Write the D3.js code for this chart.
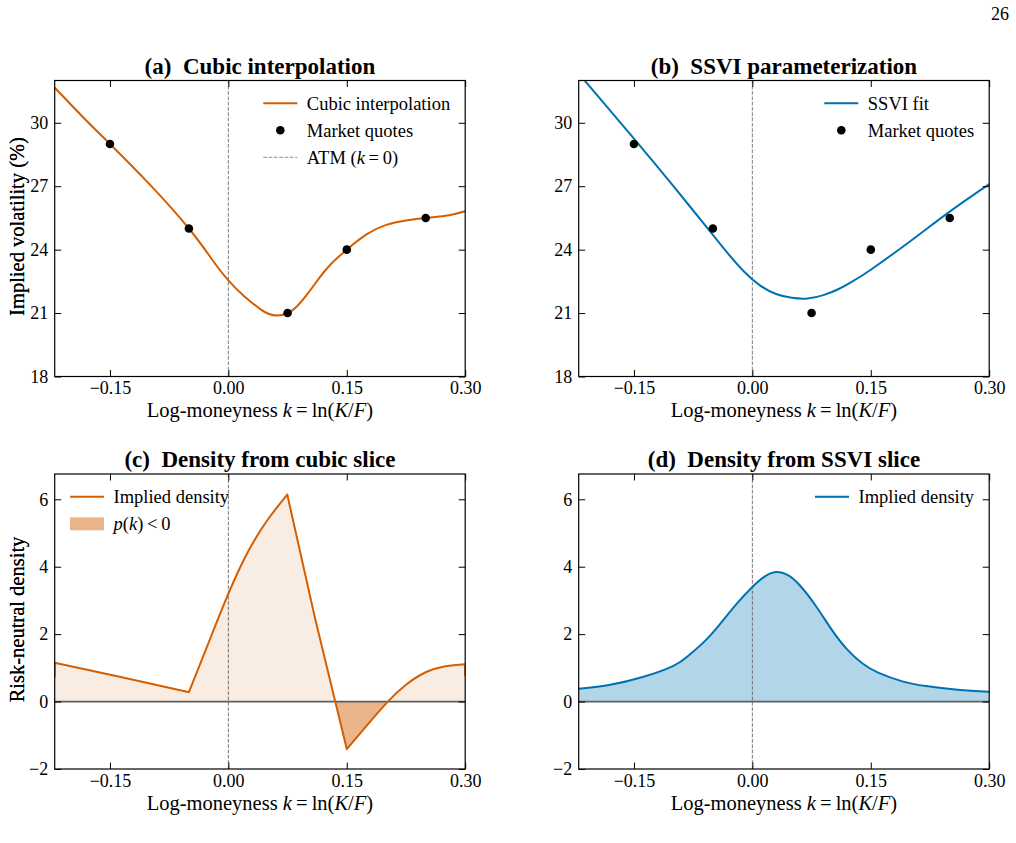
<!DOCTYPE html>
<html>
<head>
<meta charset="utf-8">
<script src="https://cdn.jsdelivr.net/npm/d3@7/dist/d3.min.js"></script>
<style>
  body { margin: 0; background: #fff; }
  svg { display: block; }
  text { font-family: "Liberation Serif", "Times New Roman", serif; fill: #000; }
</style>
</head>
<body>
<div id="chart"></div>
<script>
// Axis ranges and ticks
const kDomain = [-0.22, 0.30];
const kTicks = [-0.15, 0.00, 0.15, 0.30];
const volDomain = [18, 32];
const volTicks = [18, 21, 24, 27, 30];
const densDomain = [-2, 6.75];
const densTicks = [-2, 0, 2, 4, 6];

// Market quotes (log-moneyness, implied vol %)
const quoteK = [-0.15, -0.05, 0.075, 0.15, 0.25];
const quoteVol = [29.0, 25.0, 21.0, 24.0, 25.5];

// (a) cubic interpolated smile
const cubicK = [-0.22, -0.185, -0.15, -0.10, -0.05, -0.02, 0.0, 0.02, 0.04, 0.05, 0.062, 0.075, 0.085, 0.10, 0.115, 0.13, 0.15, 0.175, 0.20, 0.225, 0.25, 0.275, 0.30];
const cubicVol = [31.66, 30.3, 29.0, 27.1, 25.0, 23.5, 22.55, 21.8, 21.2, 20.98, 20.88, 21.0, 21.25, 21.9, 22.65, 23.32, 24.0, 24.72, 25.17, 25.38, 25.5, 25.6, 25.82];

// (b) SSVI fitted smile
const ssviK = [-0.22, -0.15, -0.10, -0.05, -0.03, -0.01, 0.01, 0.03, 0.05, 0.07, 0.09, 0.11, 0.13, 0.15, 0.20, 0.25, 0.30];
const ssviVol = [32.33, 29.25, 27.0, 24.7, 23.78, 22.94, 22.3, 21.9, 21.72, 21.69, 21.85, 22.15, 22.57, 23.05, 24.4, 25.8, 27.1];

// (c) density implied by the cubic slice (kinks at the inner knots)
const cubicDensK = [-0.22, -0.22, -0.135, -0.05, -0.025, 0.0, 0.025, 0.05, 0.0746, 0.11, 0.15, 0.175, 0.202, 0.225, 0.25, 0.275, 0.30, 0.30];
const cubicDensP = [0.74, 1.15, 0.72, 0.28, 1.75, 3.2, 4.45, 5.4, 6.14, 2.45, -1.41, -0.72, 0.0, 0.5, 0.87, 1.05, 1.11, 0.77];
const cubicDensKinks = [-0.05, 0.0746, 0.15];

// (d) density implied by the SSVI slice
const ssviDensK = [-0.22, -0.18, -0.14, -0.10, -0.08, -0.06, -0.04, -0.02, 0.0, 0.015, 0.03, 0.045, 0.06, 0.08, 0.10, 0.12, 0.14, 0.16, 0.19, 0.22, 0.26, 0.30];
const ssviDensP = [0.38, 0.5, 0.72, 1.06, 1.38, 1.8, 2.33, 2.9, 3.4, 3.7, 3.84, 3.75, 3.45, 2.85, 2.15, 1.55, 1.12, 0.85, 0.6, 0.46, 0.35, 0.29];

const orange = "#d55e00";
const blue = "#0072b2";

const W = 1016, H = 843;
const pw = 410.5;

const svg = d3.select("#chart").append("svg")
    .attr("width", W)
    .attr("height", H);

svg.append("rect").attr("width", W).attr("height", H).attr("fill", "#fff");

// page number
svg.append("text")
    .attr("x", 1009).attr("y", 19.5)
    .attr("text-anchor", "end")
    .style("font-size", "18px")
    .text("26");

const zip = (a, b) => a.map((v, i) => [v, b[i]]);

// split a series into smooth pieces at kinks and at vertical jumps
function splitPieces(pts, kinks) {
    const pieces = [];
    let cur = [pts[0]];
    for (let i = 1; i < pts.length; i++) {
        const p = pts[i];
        const vertical = p[0] === cur[cur.length - 1][0];
        if (vertical) {
            if (cur.length > 1) pieces.push(cur);
            pieces.push([cur[cur.length - 1], p]);
            cur = [p];
            continue;
        }
        cur.push(p);
        if (kinks.includes(p[0]) && i < pts.length - 1) {
            pieces.push(cur);
            cur = [p];
        }
    }
    if (cur.length > 1) pieces.push(cur);
    return pieces;
}

function drawPanel(opt) {
    const g = svg.append("g").attr("transform", `translate(${opt.left},${opt.top})`);
    const h = opt.height;
    const x = d3.scaleLinear().domain(kDomain).range([0, pw]);
    const y = d3.scaleLinear().domain(opt.yDomain).range([h, 0]);

    const clipId = "clip-" + opt.id;
    g.append("clipPath").attr("id", clipId)
        .append("rect").attr("width", pw).attr("height", h);

    const body = g.append("g").attr("clip-path", `url(#${clipId})`);

    const pieces = splitPieces(zip(opt.xs, opt.ys), opt.kinks || []);
    const line = d3.line().x(d => x(d[0])).y(d => y(d[1])).curve(d3.curveNatural);
    const linePath = pieces.map(p => line(p)).join("");

    // fills: above zero light, below zero darker
    if (opt.density) {
        const area = d3.area().x(d => x(d[0])).y0(y(0)).y1(d => y(d[1])).curve(d3.curveNatural);
        const areaPath = pieces.map(p => area(p)).join("");
        g.append("clipPath").attr("id", clipId + "-pos")
            .append("rect").attr("width", pw).attr("height", y(0));
        g.append("clipPath").attr("id", clipId + "-neg")
            .append("rect").attr("y", y(0)).attr("width", pw).attr("height", h - y(0));
        body.append("g").attr("clip-path", `url(#${clipId}-pos)`)
            .append("path").attr("d", areaPath).attr("fill", opt.lightFill);
        if (opt.negFill) {
            body.append("g").attr("clip-path", `url(#${clipId}-neg)`)
                .append("path").attr("d", areaPath).attr("fill", opt.negFill);
        }
    }

    // ATM line
    body.append("line")
        .attr("x1", x(0)).attr("x2", x(0))
        .attr("y1", 0).attr("y2", h)
        .attr("stroke", opt.density ? "#666" : "#8a8a8a")
        .attr("stroke-width", opt.density ? 0.9 : 1.1)
        .attr("stroke-dasharray", "3.7,1.6");

    if (opt.density) {
        body.append("line")
            .attr("x1", 0).attr("x2", pw)
            .attr("y1", y(0)).attr("y2", y(0))
            .attr("stroke", "#5e5e5e")
            .attr("stroke-width", 1.8);
    }

    // main curve
    body.append("path")
        .attr("d", linePath)
        .attr("fill", "none")
        .attr("stroke", opt.color)
        .attr("stroke-width", 2)
        .attr("stroke-linejoin", "round")
        .attr("stroke-linecap", "round");

    // quotes
    if (opt.quotes) {
        body.selectAll("circle.q")
            .data(zip(quoteK, quoteVol))
            .enter().append("circle")
            .attr("class", "q")
            .attr("cx", d => x(d[0]))
            .attr("cy", d => y(d[1]))
            .attr("r", 4.3)
            .attr("fill", "#000");
    }

    // axes with inward ticks on all four sides
    const tick = 6.5;
    const styleAxis = sel => {
        sel.select(".domain").remove();
        sel.attr("font-family", null).attr("font-size", null);
        sel.selectAll("line").attr("stroke", "#000").attr("stroke-width", 1);
        sel.selectAll("text").style("font-family", '"Liberation Serif", serif').style("font-size", "18px").attr("fill", "#000");
    };
    g.append("g").attr("transform", `translate(0,${h})`)
        .call(d3.axisBottom(x).tickValues(kTicks).tickSizeInner(-tick).tickSizeOuter(0).tickPadding(5).tickFormat(d3.format(".2f")))
        .call(styleAxis);
    g.append("g")
        .call(d3.axisTop(x).tickValues(kTicks).tickSizeInner(-tick).tickSizeOuter(0).tickFormat(""))
        .call(styleAxis);
    g.append("g")
        .call(d3.axisLeft(y).tickValues(opt.yTicks).tickSizeInner(-tick).tickSizeOuter(0).tickPadding(6.5).tickFormat(d3.format("d")))
        .call(styleAxis);
    g.append("g").attr("transform", `translate(${pw},0)`)
        .call(d3.axisRight(y).tickValues(opt.yTicks).tickSizeInner(-tick).tickSizeOuter(0).tickFormat(""))
        .call(styleAxis);

    g.append("rect")
        .attr("width", pw).attr("height", h)
        .attr("fill", "none").attr("stroke", "#000").attr("stroke-width", 1.2);

    // title
    g.append("text")
        .attr("x", pw / 2).attr("y", -7)
        .attr("text-anchor", "middle")
        .style("font-size", "23px").style("font-weight", "bold")
        .attr("xml:space", "preserve")
        .text(opt.title);

    // x label
    const xl = g.append("text")
        .attr("x", pw / 2).attr("y", h + 40.5)
        .attr("text-anchor", "middle")
        .style("font-size", "20.5px");
    xl.append("tspan").text("Log-moneyness ");
    xl.append("tspan").style("font-style", "italic").text("k");
    xl.append("tspan").text("\u2009=\u2009ln(");
    xl.append("tspan").style("font-style", "italic").text("K");
    xl.append("tspan").text("/");
    xl.append("tspan").style("font-style", "italic").text("F");
    xl.append("tspan").text(")");

    // y label
    g.append("text")
        .attr("transform", `translate(${-opt.left + 24},${h / 2 - 2}) rotate(-90)`)
        .attr("text-anchor", "middle")
        .style("font-size", "20.5px")
        .text(opt.yLabel);

    // legend
    const lg = g.append("g").attr("transform", `translate(${opt.legX},${opt.legY})`);
    opt.legend.forEach((item, i) => {
        const row = lg.append("g").attr("transform", `translate(0,${i * 27})`);
        if (item.type === "line") {
            row.append("line").attr("x1", 0).attr("x2", 34).attr("y1", 0).attr("y2", 0)
                .attr("stroke", item.color).attr("stroke-width", 2);
        } else if (item.type === "dot") {
            row.append("circle").attr("cx", 17).attr("cy", 0).attr("r", 4.3).attr("fill", "#000");
        } else if (item.type === "dash") {
            row.append("line").attr("x1", 0).attr("x2", 34).attr("y1", 0).attr("y2", 0)
                .attr("stroke", "#8a8a8a").attr("stroke-width", 1.1).attr("stroke-dasharray", "3.7,1.6");
        } else if (item.type === "patch") {
            row.append("rect").attr("x", 0).attr("y", -6.5).attr("width", 34).attr("height", 13)
                .attr("fill", item.color);
        }
        const t = row.append("text").attr("x", 43.5).attr("y", 6.5).style("font-size", "18.5px");
        item.parts.forEach(p => {
            t.append("tspan").style("font-style", p[1] ? "italic" : "normal").text(p[0]);
        });
    });
}

drawPanel({
    id: "a", left: 54.7, top: 80.5, height: 296,
    yDomain: volDomain, yTicks: volTicks,
    xs: cubicK, ys: cubicVol, color: orange, quotes: true,
    title: "(a)  Cubic interpolation",
    yLabel: "Implied volatility (%)",
    legX: 208.6, legY: 22.8,
    legend: [
        { type: "line", color: orange, parts: [["Cubic interpolation"]] },
        { type: "dot", parts: [["Market quotes"]] },
        { type: "dash", parts: [["ATM ("], ["k", true], ["\u2009=\u20090)"]] }
    ]
});

drawPanel({
    id: "b", left: 578.7, top: 80.5, height: 296,
    yDomain: volDomain, yTicks: volTicks,
    xs: ssviK, ys: ssviVol, color: blue, quotes: true,
    title: "(b)  SSVI parameterization",
    yLabel: "Implied volatility (%)",
    legX: 245.6, legY: 22.8,
    legend: [
        { type: "line", color: blue, parts: [["SSVI fit"]] },
        { type: "dot", parts: [["Market quotes"]] }
    ]
});

drawPanel({
    id: "c", left: 54.7, top: 474, height: 295,
    yDomain: densDomain, yTicks: densTicks,
    xs: cubicDensK, ys: cubicDensP, kinks: cubicDensKinks,
    color: orange, density: true,
    lightFill: "#f9ece2", negFill: "#ebb58b",
    title: "(c)  Density from cubic slice",
    yLabel: "Risk-neutral density",
    legX: 15.3, legY: 22.8,
    legend: [
        { type: "line", color: orange, parts: [["Implied density"]] },
        { type: "patch", color: "#ebb58b", parts: [["p", true], ["("], ["k", true], [")\u2009<\u20090"]] }
    ]
});

drawPanel({
    id: "d", left: 578.7, top: 474, height: 295,
    yDomain: densDomain, yTicks: densTicks,
    xs: ssviDensK, ys: ssviDensP, color: blue, density: true,
    lightFill: "#b3d5e8",
    title: "(d)  Density from SSVI slice",
    yLabel: "Risk-neutral density",
    legX: 236.3, legY: 22.8,
    legend: [
        { type: "line", color: blue, parts: [["Implied density"]] }
    ]
});
</script>
</body>
</html>
